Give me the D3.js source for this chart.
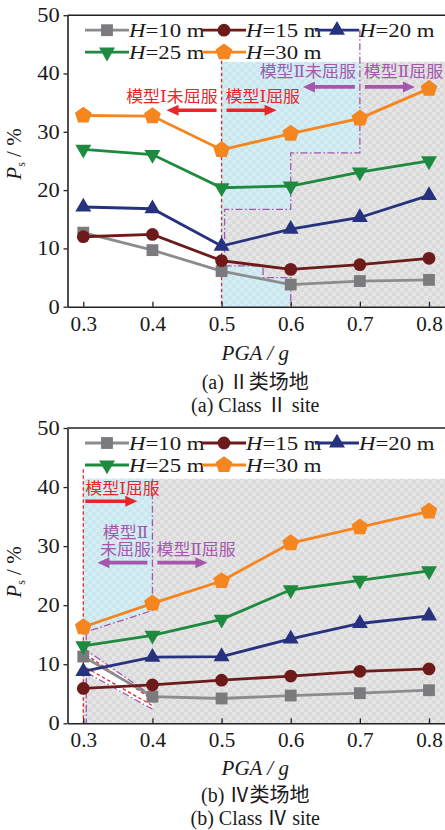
<!DOCTYPE html>
<html><head><meta charset="utf-8">
<script src="https://cdn.jsdelivr.net/npm/d3@7"></script>
<style>html,body{margin:0;padding:0;background:#fff;} svg{display:block}</style>
</head><body><svg id="c" width="445" height="830"></svg>
<script>
// ---------------- data ----------------
const pga = [0.3, 0.4, 0.5, 0.6, 0.7, 0.8];
const seriesLabels = ["10 m", "15 m", "20 m", "25 m", "30 m"];
const class2_H10 = [12.7, 9.7, 6.1, 3.8, 4.4, 4.6];
const class2_H15 = [12.0, 12.4, 7.9, 6.4, 7.2, 8.3];
const class2_H20 = [17.1, 16.8, 10.4, 13.3, 15.3, 19.1];
const class2_H25 = [27.0, 26.1, 20.4, 20.7, 23.1, 25.0];
const class2_H30 = [32.8, 32.7, 26.9, 29.7, 32.3, 37.4];
const class4_H10 = [11.3, 4.5, 4.2, 4.7, 5.1, 5.6];
const class4_H15 = [5.9, 6.5, 7.3, 8.0, 8.8, 9.2];
const class4_H20 = [8.8, 11.2, 11.3, 14.3, 16.9, 18.2];
const class4_H25 = [13.1, 14.9, 17.6, 22.6, 24.2, 25.8];
const class4_H30 = [16.3, 20.3, 24.1, 30.5, 33.2, 35.9];
const yTicks = [0, 10, 20, 30, 40, 50];
const xTicks = [0.3, 0.4, 0.5, 0.6, 0.7, 0.8];
const xTickLabels = ["0.3", "0.4", "0.5", "0.6", "0.7", "0.8"];

// styles
const lineColors = ["#8c8c8e", "#6c1a1a", "#27327f", "#1e8a3f", "#f5851f"];
const markColors = ["#7b7b7e", "#6c1a1a", "#27327f", "#1e8a3f", "#f5851f"];
const markTypes = ["square", "circle", "triUp", "triDown", "pent"];
const RED = "#e8262a", PURPLE = "#a457ad";
const SERIF = "'Liberation Serif','Times New Roman',serif";
const CJK = "'Liberation Serif','Noto Sans CJK SC',serif";
const ANN = "'DejaVu Serif','Noto Sans CJK SC',serif";

const svg = d3.select("#c");
const defs = svg.append("defs");
const pg = defs.append("pattern").attr("id", "greyPat").attr("patternUnits", "userSpaceOnUse").attr("width", 8).attr("height", 8);
pg.append("rect").attr("width", 8).attr("height", 8).attr("fill", "#dadada");
pg.append("rect").attr("width", 4).attr("height", 4).attr("fill", "#e5e5e5");
pg.append("rect").attr("x", 4).attr("y", 4).attr("width", 4).attr("height", 4).attr("fill", "#e5e5e5");
const pc = defs.append("pattern").attr("id", "cyanPat").attr("patternUnits", "userSpaceOnUse").attr("width", 8).attr("height", 8);
pc.append("rect").attr("width", 8).attr("height", 8).attr("fill", "#c9e7ee");
pc.append("rect").attr("width", 4).attr("height", 4).attr("fill", "#d6eef3");
pc.append("rect").attr("x", 4).attr("y", 4).attr("width", 4).attr("height", 4).attr("fill", "#d6eef3");

function markerPath(type) {
  if (type === "square") return d3.symbol(d3.symbolSquare, 140)();
  if (type === "circle") return d3.symbol(d3.symbolCircle, 128)();
  if (type === "triUp" || type === "triDown") return d3.symbol(d3.symbolTriangle, 110)();
  const R = 8.8;
  const pts = d3.range(5).map(i => { const a = -Math.PI / 2 + i * 2 * Math.PI / 5; return [R * Math.cos(a), R * Math.sin(a)]; });
  return "M" + pts.map(p => p.join(",")).join("L") + "Z";
}
function drawMarker(g, type, color, cx, cy) {
  g.append("path").attr("d", markerPath(type)).attr("fill", color)
    .attr("transform", `translate(${cx},${cy})` + (type === "triDown" ? " rotate(180)" : ""));
}
function txt(g, x, y, s, o = {}) {
  const t = g.append("text").attr("transform", `translate(${x},${y}) scale(${o.sx || 1},1)`)
    .attr("font-family", o.ff || SERIF).attr("font-size", o.fs || 18)
    .attr("fill", o.fill || "#1a1a1a").attr("text-anchor", o.anchor || "start")
    .attr("dy", "0.35em");
  if (o.italic) t.attr("font-style", "italic");
  t.text(s);
  return t;
}
function arrow(g, x1, x2, y, color) {
  const dir = Math.sign(x2 - x1), L = 12, W = 5.5;
  g.append("line").attr("x1", x1).attr("x2", x2 - dir * (L - 1)).attr("y1", y).attr("y2", y)
    .attr("stroke", color).attr("stroke-width", 3.6);
  g.append("path").attr("d", `M${x2},${y}L${x2 - dir * L},${y - W}L${x2 - dir * L},${y + W}Z`).attr("fill", color);
}

function makeChart(cfg) {
  const g = svg.append("g");
  const frameL = 67.5, frameR = 447;
  const x = d3.scaleLinear().domain([0.3, 0.8]).range([83.3, 429]);
  const y = d3.scaleLinear().domain([0, 50]).range([cfg.yBottom, cfg.yTop]);
  const ctx = { g, x, y, frameL, frameR };

  cfg.annotBack(ctx);

  const line = d3.line().x((d, i) => x(pga[i])).y(d => y(d));
  cfg.series.forEach((s, k) => {
    g.append("path").attr("d", line(s)).attr("fill", "none").attr("stroke", lineColors[k]).attr("stroke-width", 2.8);
  });
  cfg.series.forEach((s, k) => {
    s.forEach((v, i) => drawMarker(g, markTypes[k], markColors[k], x(pga[i]), y(v)));
  });

  cfg.annotFront(ctx);

  // legend
  const legCols = [17.5, 134.5, 247.5];
  const legRows = [15, 37];
  seriesLabels.forEach((lab, k) => {
    const cx = frameL + legCols[k % 3], cy = cfg.yTop + legRows[Math.floor(k / 3)];
    g.append("line").attr("x1", cx).attr("x2", cx + 44).attr("y1", cy).attr("y2", cy).attr("stroke", lineColors[k]).attr("stroke-width", 2.8);
    drawMarker(g, markTypes[k], markColors[k], cx + 22, cy);
    const t = g.append("text").attr("transform", `translate(${cx + 44},${cy}) scale(1.2,1)`)
      .attr("font-family", SERIF).attr("font-size", 19).attr("fill", "#1a1a1a").attr("dy", "0.35em");
    t.append("tspan").attr("font-style", "italic").text("H");
    t.append("tspan").text("=" + lab);
  });

  // axes
  const yAx = g.append("g").attr("transform", `translate(${frameL},0)`)
    .call(d3.axisLeft(y).tickValues(yTicks).tickSize(4).tickSizeOuter(0).tickPadding(3));
  const xAxScale = x.copy().domain([x.invert(frameL), x.invert(frameR)]).range([frameL, frameR]);
  const xAx = g.append("g").attr("transform", `translate(0,${cfg.yBottom})`)
    .call(d3.axisBottom(xAxScale).tickValues(xTicks).tickFormat((d, i) => xTickLabels[i]).tickSize(-5).tickSizeOuter(0).tickPadding(10));
  [yAx, xAx].forEach(a => {
    a.select(".domain").attr("stroke", "#222").attr("stroke-width", 1.6);
    a.selectAll(".tick line").attr("stroke", "#222").attr("stroke-width", 1.3);
    a.selectAll(".tick text").attr("font-family", SERIF).attr("font-size", 20).attr("fill", "#1a1a1a");
  });
  yAx.selectAll(".tick text").attr("transform", "scale(1.12,1)");
  xAx.selectAll(".tick text").attr("transform", "scale(1.06,1)");
  g.append("line").attr("x1", frameL).attr("x2", frameR).attr("y1", y(50)).attr("y2", y(50)).attr("stroke", "#222").attr("stroke-width", 1.6);

  // y label
  const yl = g.append("text").attr("transform", `translate(21,${cfg.yLabelY}) rotate(-90)`)
    .attr("font-family", SERIF).attr("font-size", 21).attr("fill", "#1a1a1a").attr("text-anchor", "middle");
  yl.append("tspan").attr("font-style", "italic").text("P");
  yl.append("tspan").attr("font-size", 12).attr("dy", 4).text("s");
  yl.append("tspan").attr("dy", -4).text(" / %");

  const cx = (frameL + 443) / 2;
  txt(g, cx, cfg.yBottom + cfg.capOff[0], "PGA / g", { italic: true, fs: 21, anchor: "middle" });
  txt(g, cx, cfg.yBottom + cfg.capOff[1], cfg.cap1, { fs: 20, anchor: "middle", ff: CJK });
  txt(g, cx, cfg.yBottom + cfg.capOff[2], cfg.cap2, { fs: 20, anchor: "middle", ff: CJK });
}

const cjk = { ff: ANN, fs: 16, sx: 1.06 };

// ---------- chart (a) ----------
makeChart({
  yTop: 15.2, yBottom: 306.7, yLabelY: 154, capOff: [46.3, 75, 98.3],
  series: [class2_H10, class2_H15, class2_H20, class2_H25, class2_H30],
  cap1: "(a) Ⅱ类场地", cap2: "(a) Class Ⅱ site",
  annotBack: ({ g, x, y, frameR }) => {
    g.append("rect").attr("x", x(0.5)).attr("y", y(42)).attr("width", x(0.7) - x(0.5)).attr("height", y(0) - y(42)).attr("fill", "url(#cyanPat)");
    const xa = x(0.5) + 3, xm = x(0.56);
    const poly = [[xa, y(16.7)], [x(0.6), y(16.7)], [x(0.6), y(26.4)], [x(0.7), y(26.4)], [x(0.7), y(42)], [frameR, y(42)], [frameR, y(0)],
      [x(0.6), y(0)], [x(0.6), y(5.0)], [xm, y(5.0)], [xm, y(7.0)], [xa, y(7.0)]];
    g.append("path").attr("d", "M" + poly.join("L") + "Z").attr("fill", "url(#greyPat)");
    const pd = "7,2.5,1.5,2.5";
    const up = [[xa, y(7.0)], [xa, y(16.7)], [x(0.6), y(16.7)], [x(0.6), y(26.4)], [x(0.7), y(26.4)], [x(0.7), y(47.8)]];
    g.append("path").attr("d", "M" + up.join("L")).attr("fill", "none").attr("stroke", PURPLE).attr("stroke-width", 1.3).attr("stroke-dasharray", pd);
    const lo = [[xa, y(7.0)], [xm, y(7.0)], [xm, y(5.0)], [x(0.6), y(5.0)], [x(0.6), y(0)]];
    g.append("path").attr("d", "M" + lo.join("L")).attr("fill", "none").attr("stroke", PURPLE).attr("stroke-width", 1.3).attr("stroke-dasharray", pd);
    g.append("line").attr("x1", x(0.5)).attr("x2", x(0.5)).attr("y1", y(43.2)).attr("y2", y(0)).attr("stroke", RED).attr("stroke-width", 1.3).attr("stroke-dasharray", "3.5,2.5");
  },
  annotFront: ({ g, x, y }) => {
    txt(g, x(0.5) - 4, y(36), "模型Ⅰ未屈服", { ...cjk, fill: RED, anchor: "end" });
    txt(g, x(0.5) + 4, y(36), "模型Ⅰ屈服", { ...cjk, fill: RED });
    arrow(g, x(0.5) - 5, x(0.5) - 55, y(33.7), RED);
    arrow(g, x(0.5) + 5, x(0.5) + 55, y(33.7), RED);
    txt(g, x(0.7) - 4, y(40.3), "模型Ⅱ未屈服", { ...cjk, fill: PURPLE, anchor: "end" });
    txt(g, x(0.7) + 4, y(40.3), "模型Ⅱ屈服", { ...cjk, fill: PURPLE });
    arrow(g, x(0.7) - 5, x(0.7) - 57, y(37.7), PURPLE);
    arrow(g, x(0.7) + 5, x(0.7) + 55, y(37.7), PURPLE);
  }
});

// ---------- chart (b) ----------
makeChart({
  yTop: 428, yBottom: 723.3, yLabelY: 572, capOff: [44.7, 71.7, 94.7],
  series: [class4_H10, class4_H15, class4_H20, class4_H25, class4_H30],
  cap1: "(b) Ⅳ类场地", cap2: "(b) Class Ⅳ site",
  annotBack: ({ g, x, y, frameR }) => {
    const x0 = x(0.3), x1 = x(0.4);
    g.append("rect").attr("x", x0).attr("y", y(41.4)).attr("width", frameR - x0).attr("height", y(0) - y(41.4)).attr("fill", "url(#greyPat)");
    g.append("path").attr("d", `M${x0},${y(41.4)}L${x1},${y(41.4)}L${x1},${y(19.1)}L${x0},${y(15.5)}Z`).attr("fill", "url(#cyanPat)");
    g.append("path").attr("d", `M${x0},${y(12.4)}L${x1},${y(4.6)}L${x1},${y(2.4)}L${x0},${y(8.6)}Z`).attr("fill", "#fff");
    const pd = "7,2.5,1.5,2.5";
    const pl = (pts) => g.append("path").attr("d", "M" + pts.join("L")).attr("fill", "none").attr("stroke", PURPLE).attr("stroke-width", 1.3).attr("stroke-dasharray", pd);
    const rl = (pts) => g.append("path").attr("d", "M" + pts.join("L")).attr("fill", "none").attr("stroke", RED).attr("stroke-width", 1.3).attr("stroke-dasharray", "3.5,2.5");
    pl([[x1, y(41.4)], [x1, y(19.1)], [x0 + 3, y(15.5)], [x0 + 3, y(12.4)], [x1, y(4.6)]]);
    pl([[x1, y(2.4)], [x0 + 3, y(8.6)], [x0 + 3, y(0)]]);
    rl([[x0 + 3, y(11.6)], [x1, y(4.0)]]);
    rl([[x0 + 3, y(9.4)], [x1, y(3.0)]]);
    g.append("line").attr("x1", x0).attr("x2", x0).attr("y1", y(43)).attr("y2", y(0)).attr("stroke", RED).attr("stroke-width", 1.3).attr("stroke-dasharray", "3.5,2.5");
  },
  annotFront: ({ g, x, y }) => {
    txt(g, x(0.3) + 2, y(39.7), "模型Ⅰ屈服", { ...cjk, fill: RED });
    arrow(g, x(0.3) + 2, x(0.3) + 54, y(37.6), RED);
    txt(g, x(0.4) - 27, y(32.4), "模型Ⅱ", { ...cjk, fill: PURPLE, anchor: "middle" });
    txt(g, x(0.4) - 27, y(29.4), "未屈服", { ...cjk, fill: PURPLE, anchor: "middle" });
    txt(g, x(0.4) + 4, y(29.4), "模型Ⅱ屈服", { ...cjk, fill: PURPLE });
    arrow(g, x(0.4) - 5, x(0.4) - 55, y(27.2), PURPLE);
    arrow(g, x(0.4) + 5, x(0.4) + 55, y(27.2), PURPLE);
  }
});
</script></body></html>
